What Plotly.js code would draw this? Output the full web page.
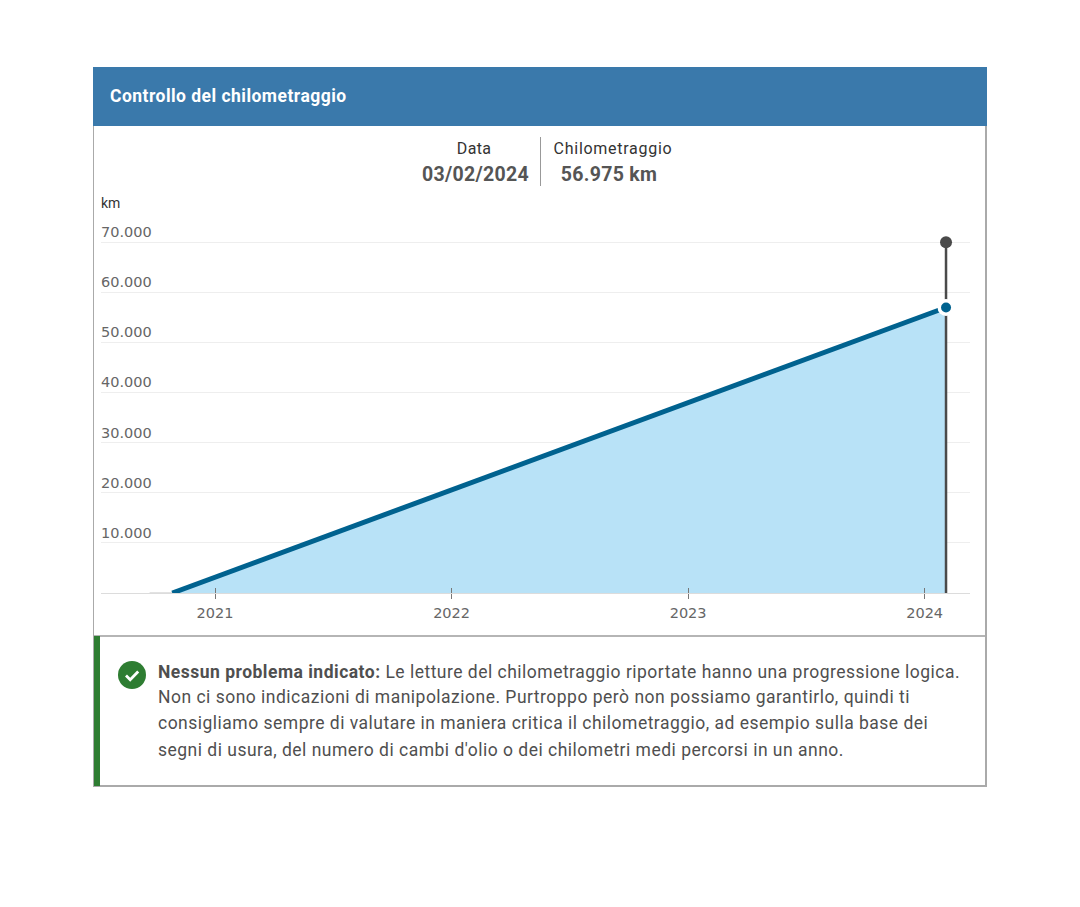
<!DOCTYPE html>
<html lang="it">
<head>
<meta charset="utf-8">
<title>Controllo del chilometraggio</title>
<script src="https://cdn.plot.ly/plotly-3.0.1.min.js"></script>
<style>
html,body{margin:0;padding:0;background:#fff;width:1080px;height:907px;overflow:hidden;font-family:Roboto,sans-serif}
.abs{position:absolute;white-space:nowrap}
#chart{position:absolute;left:0;top:0;width:1080px;height:907px}
.note{left:158px;font-size:17.5px;line-height:26px;color:#4f4f4f;letter-spacing:.49px}
.lbl{text-align:center;width:200px;top:139px;font-size:16px;line-height:20px;color:#333;letter-spacing:.72px}
.val{text-align:center;width:200px;top:163px;font-size:19.5px;line-height:24px;font-weight:700;color:#555;letter-spacing:.3px}
</style>
</head>
<body>
<div class="abs" style="left:93px;top:67px;width:891px;height:718px;border:1px solid #aaa;border-width:0 2px 2px 1px"></div>
<div class="abs" style="left:93px;top:67px;width:894px;height:59px;background:#3a79ab"></div>
<div class="abs" style="left:94px;top:635px;width:891px;height:2px;background:#b5b5b5"></div>
<div class="abs" style="left:94px;top:636px;width:6px;height:150px;background:#2e7d32"></div>
<div id="chart"></div>
<div class="abs" id="title" style="left:110px;top:85px;font-size:17.5px;line-height:22px;font-weight:700;color:#fff;letter-spacing:.47px"></div>
<div class="abs lbl" id="lblDate" style="left:374px;letter-spacing:.3px"></div>
<div class="abs val" id="valDate" style="left:375.5px"></div>
<div class="abs" style="left:539.5px;top:137px;width:1.5px;height:49px;background:#999"></div>
<div class="abs lbl" id="lblKm" style="left:513px"></div>
<div class="abs val" id="valKm" style="left:509px"></div>
<div class="abs" id="unit" style="left:101px;top:195px;font-size:14px;line-height:16px;color:#333"></div>
<svg class="abs" style="left:118px;top:661px" width="28" height="28" viewBox="0 0 28 28">
<circle cx="14" cy="14" r="14" fill="#2e7d32"/>
<path d="M8 14.5l4.2 4.2L20.2 10.5" fill="none" stroke="#fff" stroke-width="2.8"/>
</svg>
<div class="abs note" id="note0" style="top:659px"></div>
<div class="abs note" id="note1" style="top:684px"></div>
<div class="abs note" id="note2" style="top:710px"></div>
<div class="abs note" id="note3" style="top:737px"></div>
<script>
const titleText = "Controllo del chilometraggio";
const dateLabel = "Data";
const dateValue = "03/02/2024";
const kmLabel = "Chilometraggio";
const kmValue = "56.975 km";
const unitLabel = "km";
const noteLead = "Nessun problema indicato:";
const noteLines = [
  " Le letture del chilometraggio riportate hanno una progressione logica.",
  "Non ci sono indicazioni di manipolazione. Purtroppo però non possiamo garantirlo, quindi ti",
  "consigliamo sempre di valutare in maniera critica il chilometraggio, ad esempio sulla base dei",
  "segni di usura, del numero di cambi d'olio o dei chilometri medi percorsi in un anno."
];

const readingDates = ["2020-10-27", "2024-02-03"];
const readingKm = [0, 56975];
const leadDates = ["2020-09-22", "2020-10-27"];
const leadKm = [0, 0];
const markerDates = ["2024-02-03", "2024-02-03"];
const markerKm = [0, 70000];
const topDate = ["2024-02-03"];
const topKm = [70000];
const currentDate = ["2024-02-03"];
const currentKm = [56975];
const yTicks = [0, 10000, 20000, 30000, 40000, 50000, 60000, 70000];
const yTickLabels = ["", "10.000", "20.000", "30.000", "40.000", "50.000", "60.000", "70.000"];
const xTicks = ["2021-01-01", "2022-01-01", "2023-01-01", "2024-01-01"];
const xTickLabels = ["2021", "2022", "2023", "2024"];
const xRange = ["2020-07-09", "2024-03-11"];
const yRange = [0, 90000];

document.getElementById("title").textContent = titleText;
document.getElementById("lblDate").textContent = dateLabel;
document.getElementById("valDate").textContent = dateValue;
document.getElementById("lblKm").textContent = kmLabel;
document.getElementById("valKm").textContent = kmValue;
document.getElementById("unit").textContent = unitLabel;
const lead = document.createElement("b");
lead.style.fontWeight = "700";
lead.textContent = noteLead;
const n0 = document.getElementById("note0");
n0.appendChild(lead);
n0.appendChild(document.createTextNode(noteLines[0]));
document.getElementById("note1").textContent = noteLines[1];
document.getElementById("note2").textContent = noteLines[2];
document.getElementById("note3").textContent = noteLines[3];

const traces = [
  {x: leadDates, y: leadKm, mode: "lines", line: {color: "#c4c4c4", width: 1}, hoverinfo: "skip"},
  {x: readingDates, y: readingKm, mode: "lines", fill: "tozeroy", fillcolor: "#b8e2f7",
   line: {color: "#00628f", width: 5}, cliponaxis: false, hoverinfo: "skip"},
  {x: markerDates, y: markerKm, mode: "lines", line: {color: "#4a4a4a", width: 2.5}, cliponaxis: false, hoverinfo: "skip"},
  {x: topDate, y: topKm, mode: "markers", marker: {color: "#4a4a4a", size: 12}, cliponaxis: false, hoverinfo: "skip"},
  {x: currentDate, y: currentKm, mode: "markers", marker: {color: "#fff", size: 17}, cliponaxis: false, hoverinfo: "skip"},
  {x: currentDate, y: currentKm, mode: "markers", marker: {color: "#00628f", size: 10}, cliponaxis: false, hoverinfo: "skip"},
  {x: leadDates, y: leadKm, xaxis: "x2", mode: "lines", line: {color: "rgba(0,0,0,0)", width: 0}, hoverinfo: "skip"}
];

const layout = {
  width: 1080, height: 907,
  margin: {l: 101, r: 110, t: 141.7, b: 314.3, pad: 0},
  paper_bgcolor: "rgba(0,0,0,0)", plot_bgcolor: "rgba(0,0,0,0)",
  showlegend: false,
  separators: ",.",
  xaxis: {
    type: "date", range: xRange, tickmode: "array", tickvals: xTicks, ticktext: xTickLabels,
    ticks: "outside", ticklen: 5, tickwidth: 1, tickcolor: "#777", ticklabelstandoff: 2,
    tickfont: {family: "DejaVu Sans, sans-serif", size: 14.5, color: "#666"},
    showgrid: false, zeroline: false, showline: true, linecolor: "#dcdcdc", linewidth: 1
  },
  xaxis2: {
    type: "date", range: xRange, overlaying: "x", anchor: "y", side: "bottom",
    tickmode: "array", tickvals: xTicks, showticklabels: false,
    ticks: "inside", ticklen: 5, tickwidth: 1, tickcolor: "#777",
    showgrid: false, zeroline: false, showline: false
  },
  yaxis: {
    range: yRange, tickmode: "array", tickvals: yTicks, ticktext: yTickLabels,
    ticklabelposition: "inside top", ticks: "", ticklabelstandoff: -3, ticklabelshift: -1.5,
    tickfont: {family: "DejaVu Sans, sans-serif", size: 14.5, color: "#666"},
    showgrid: true, gridcolor: "#eeeeee", gridwidth: 1, zeroline: false, showline: false
  }
};
Plotly.newPlot("chart", traces, layout, {displayModeBar: false, staticPlot: true});
</script>
</body>
</html>
